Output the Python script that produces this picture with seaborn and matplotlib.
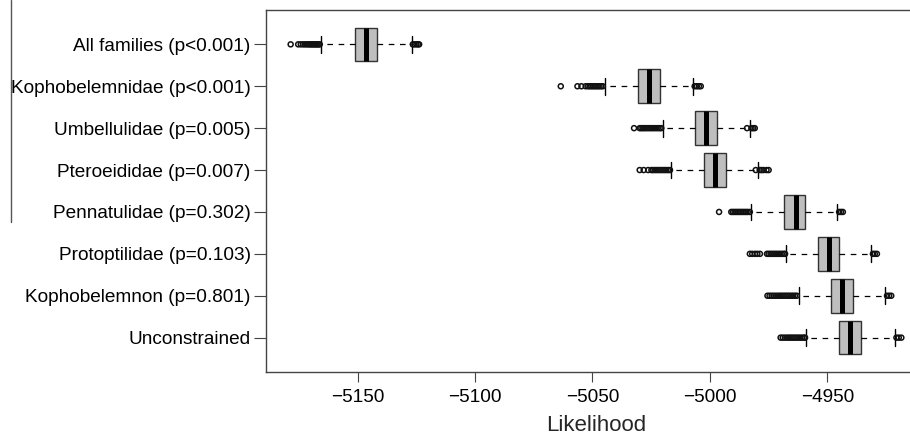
import numpy as np
import pandas as pd
import matplotlib
matplotlib.use("Agg")
import matplotlib.pyplot as plt
import seaborn as sns
from matplotlib.lines import Line2D

# ---------------- data ----------------
groups = [
    "All families (p<0.001)",
    "Kophobelemnidae (p<0.001)",
    "Umbellulidae (p=0.005)",
    "Pteroeididae (p=0.007)",
    "Pennatulidae (p=0.302)",
    "Protoptilidae (p=0.103)",
    "Kophobelemnon (p=0.801)",
    "Unconstrained",
]
whisker_low = [-5165.6, -5044.8, -5020.1, -5016.4, -4982.3, -4967.4, -4962.1, -4958.9]
q1 = [-5150.9, -5030.6, -5006.2, -5002.6, -4968.5, -4954.0, -4948.6, -4945.1]
median = [-5146.5, -5025.9, -5001.5, -4997.9, -4963.2, -4949.1, -4943.6, -4940.2]
q3 = [-5141.8, -5021.2, -4997.0, -4993.3, -4959.5, -4945.1, -4939.1, -4935.8]
whisker_high = [-5127.0, -5007.2, -4983.0, -4979.5, -4945.7, -4931.3, -4925.3, -4921.4]

out_all_families = [-5178.5, -5175.3, -5174.2, -5173.2, -5172.4, -5171.6, -5170.9,
                    -5170.3, -5169.7, -5169.2, -5168.6, -5168.1, -5167.6, -5167.1,
                    -5166.6, -5166.1, -5126.5, -5125.8, -5125.0, -5124.3, -5123.8]
out_kophobelemnidae = [-5063.5, -5056.4, -5054.7, -5052.9, -5051.9, -5051.2, -5050.5,
                       -5049.8, -5049.1, -5048.4, -5047.7, -5047.0, -5046.3, -5045.6,
                       -5006.5, -5005.6, -5004.7, -5003.9]
out_umbellulidae = [-5032.3, -5029.9, -5029.2, -5028.5, -5027.8, -5027.0, -5026.2,
                    -5025.4, -5024.6, -5023.8, -5023.0, -5022.2, -5021.4, -5020.7,
                    -4984.2, -4982.3, -4981.6, -4980.9]
out_pteroeididae = [-5029.9, -5028.2, -5026.3, -5024.9, -5024.2, -5023.4, -5022.6,
                    -5021.8, -5021.0, -5020.2, -5019.4, -5018.6, -5017.8, -5017.0,
                    -4980.5, -4978.8, -4978.0, -4977.2, -4975.9, -4975.0]
out_pennatulidae = [-4996.1, -4990.9, -4990.2, -4989.5, -4988.8, -4988.1, -4987.4,
                    -4986.7, -4986.0, -4985.3, -4984.6, -4983.9, -4983.0,
                    -4945.0, -4944.2, -4943.4]
out_protoptilidae = [-4983.0, -4982.0, -4980.8, -4979.8, -4978.7, -4975.7, -4975.0,
                     -4974.2, -4973.4, -4972.6, -4971.8, -4971.0, -4970.2, -4969.4,
                     -4968.6, -4968.0, -4930.6, -4929.8, -4928.9]
out_kophobelemnon = [-4975.5, -4974.6, -4973.7, -4972.8, -4971.9, -4971.0, -4970.2,
                     -4969.4, -4968.6, -4967.8, -4967.0, -4966.2, -4965.4, -4964.6,
                     -4963.8, -4963.0, -4924.6, -4923.7, -4922.8]
out_unconstrained = [-4969.9, -4969.0, -4968.1, -4967.2, -4966.4, -4965.6, -4964.8,
                     -4964.0, -4963.2, -4962.4, -4961.6, -4960.8, -4960.0, -4959.5,
                     -4920.6, -4919.6, -4918.5]
outliers = [out_all_families, out_kophobelemnidae, out_umbellulidae, out_pteroeididae,
            out_pennatulidae, out_protoptilidae, out_kophobelemnon, out_unconstrained]

x_ticks = [-5150, -5100, -5050, -5000, -4950]
x_label = "Likelihood"

# ---------------- tables for seaborn ----------------
core = pd.DataFrame({
    "group": np.repeat(groups, 5),
    "value": np.column_stack([whisker_low, q1, median, q3, whisker_high]).ravel(),
})
out_df = pd.DataFrame({
    "group": [g for g, o in zip(groups, outliers) for _ in o],
    "value": [v for o in outliers for v in o],
})

# ---------------- figure ----------------
sns.set_theme(style="white")
plt.rcParams["font.family"] = ["Liberation Sans", "DejaVu Sans"]

W, H = 910, 436
fig = plt.figure(figsize=(W / 100, H / 100), dpi=100)
ax = fig.add_axes([266 / W, 1 - 372 / H, (926 - 266) / W, (372 - 10) / H])

sns.boxplot(
    data=core, x="value", y="group", order=groups, orient="h",
    whis=(0, 100), width=0.8, color="#bebebe", saturation=1,
    linecolor="#333333", linewidth=1.0, showfliers=False,
    medianprops=dict(color="black", linewidth=3.6, solid_capstyle="butt"),
    whiskerprops=dict(color="black", linewidth=0.9, linestyle=(0, (4.5, 4.5))),
    capprops=dict(color="black", linewidth=1.0),
    ax=ax,
)

n_before = len(ax.collections)
sns.stripplot(
    data=out_df, x="value", y="group", order=groups, orient="h",
    jitter=False, size=3.6, color="#111111", edgecolor="#111111",
    linewidth=1.1, ax=ax,
)
for c in ax.collections[n_before:]:
    c.set_facecolor("none")
    c.set_edgecolor("#111111")
    c.set_linewidth(1.1)

ax.set_xlim(-5189, -4908)
ax.set_ylim(7.82, -0.82)
ax.set_xticks(x_ticks)
ax.set_ylabel("")
ax.set_xlabel(x_label, fontsize=16, labelpad=6)

for s in ax.spines.values():
    s.set_visible(True)
    s.set_color("#444444")
    s.set_linewidth(1.0)

ax.tick_params(axis="x", bottom=True, length=7.5, width=0.8, color="#444444",
               labelsize=13.7, pad=5, labelcolor="black")
ax.tick_params(axis="y", left=True, length=9, width=0.8, color="#444444",
               labelsize=13.7, pad=2, labelcolor="black")
ax.grid(False)

# stray vertical rule at the far left of the reference
fig.add_artist(Line2D([11 / W, 11 / W], [1, 1 - 222 / H], transform=fig.transFigure,
                      color="#555555", linewidth=1.0))

fig.savefig("out.png", dpi=100)
